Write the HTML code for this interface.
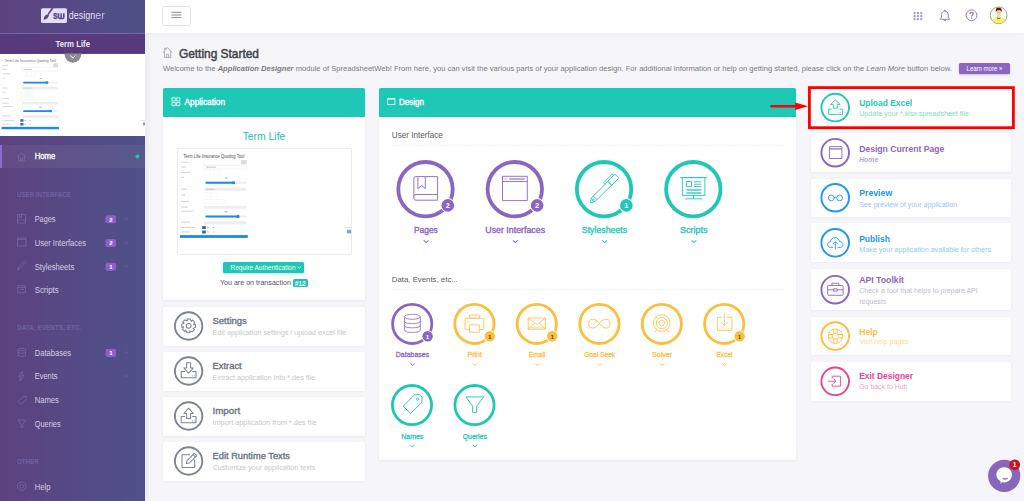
<!DOCTYPE html>
<html><head><meta charset="utf-8"><title>Designer</title>
<style>
*{margin:0;padding:0;box-sizing:border-box}
html,body{width:1024px;height:501px;overflow:hidden;background:#f6f5fa;font-family:"Liberation Sans",sans-serif}
.a{position:absolute}
.x{position:absolute;line-height:1;white-space:nowrap}
.card{position:absolute;background:#fff;border-radius:1.6px;box-shadow:0 0 0 0.4px rgba(0,0,0,0.02),0 1px 3px rgba(0,0,0,0.035)}
.hd{position:absolute;left:0;top:0;width:100%;height:29.4px;background:#1fc8b6;border-radius:1.6px 1.6px 0 0}
svg text{font-family:"Liberation Sans",sans-serif}
</style></head><body>
<div class="a" style="left:0;top:0;width:145px;height:501px;background:linear-gradient(90deg,#5c427f 0%,#554a85 50%,#4f5189 100%);box-shadow:1px 0 8px rgba(40,30,80,0.07)"></div>
<div class="a" style="left:0;top:33.4px;width:145px;height:20.1px;background:#563a7b"></div>
<div class="a" style="left:0;top:32.7px;width:145px;height:1px;background:#7a66ae"></div>
<div class="a" style="left:0;top:53.5px;width:145px;height:82.6px;background:#fff"></div>
<div class="a" style="left:0;top:144.6px;width:145px;height:23.7px;background:rgba(255,255,255,0.055)"></div>
<div class="a" style="left:0;top:144.6px;width:1.8px;height:23.7px;background:#8c6dcd"></div>
<div class="a" style="left:145px;top:0;width:879px;height:33px;background:#fff;box-shadow:0 1px 4px rgba(0,0,0,0.04)"></div>
<div class="a" style="left:162.3px;top:6px;width:28.5px;height:19.6px;border:0.8px solid #e3e3e8;border-radius:2.5px;background:#fff"></div>
<div class="a" style="left:959px;top:63.1px;width:50.8px;height:10.7px;background:#8a66bf;border-radius:1.5px;box-shadow:0 1px 2px rgba(100,70,160,0.3)"></div>
<div class="card" style="left:163px;top:87.6px;width:202px;height:212.8px"><div class="hd"></div></div>
<div class="card" style="left:163px;top:307px;width:202px;height:38.5px"></div>
<div class="card" style="left:163px;top:352px;width:202px;height:38.5px"></div>
<div class="card" style="left:163px;top:397px;width:202px;height:38.5px"></div>
<div class="card" style="left:163px;top:442px;width:202px;height:38.5px"></div>
<div class="card" style="left:379px;top:87.6px;width:417px;height:372.5px"><div class="hd"></div></div>
<div class="card" style="left:810.5px;top:88.3px;width:200.5px;height:38.6px"></div>
<div class="card" style="left:810.5px;top:133.4px;width:200.5px;height:38.6px"></div>
<div class="card" style="left:810.5px;top:178.5px;width:200.5px;height:38.5px"></div>
<div class="card" style="left:810.5px;top:223.4px;width:200.5px;height:38.8px"></div>
<div class="card" style="left:810.5px;top:269.3px;width:200.5px;height:40.8px"></div>
<div class="card" style="left:810.5px;top:316.7px;width:200.5px;height:38.7px"></div>
<div class="card" style="left:810.5px;top:361.8px;width:200.5px;height:39.1px"></div>
<div class="a" style="left:176.5px;top:148.4px;width:175px;height:106.5px;border:0.8px solid #ebebef;border-radius:2px;background:#fff"></div>
<div class="a" style="left:222.8px;top:262.3px;width:81.7px;height:10.4px;background:#1fc6b3;border-radius:1.5px;box-shadow:0 1px 3px rgba(32,196,176,0.35)"></div>
<div class="a" style="left:293px;top:279px;width:14.6px;height:8.4px;background:#1fc6b3;border-radius:1.5px"></div>
<div class="x" style="left:162.9px;top:64.5px;font-size:7.6px;color:#7a7a82" id="sub">Welcome to the <b><i>Application Designer</i></b> module of SpreadsheetWeb! From here, you can visit the various parts of your application design. For additional information or help on getting started, please click on the <i>Learn More</i> button below.</div>
<svg class="a" style="left:0;top:0" width="1024" height="501" viewBox="0 0 1024 501" font-family="Liberation Sans">
<defs><clipPath id="spc"><rect x="0" y="53.5" width="145" height="82.6"/></clipPath></defs>
<text x="183.5" y="157.8" font-size="5.1" fill="#4a4a4a" textLength="60.8" lengthAdjust="spacingAndGlyphs">Term Life Insurance Quoting Tool</text>
<rect x="181" y="161.8" width="7" height="1" fill="#9a9a9a" opacity="0.45"/><rect x="203.9" y="160" width="37" height="4.4" fill="#fff" stroke="#f0f0f0" stroke-width="0.4"/><rect x="241" y="160" width="5.7" height="4.4" fill="#ddd"/><rect x="181" y="166.5" width="5" height="1" fill="#9a9a9a" opacity="0.45"/><rect x="203.9" y="165.2" width="42.5" height="3.8" fill="#fff" stroke="#e6e6e6" stroke-width="0.4"/><rect x="206" y="166.7" width="10" height="0.9" fill="#bbb"/><rect x="181" y="171.9" width="9" height="1" fill="#9a9a9a" opacity="0.45"/><rect x="204" y="170" width="5.2" height="5" fill="#fff" stroke="#f0f0f0" stroke-width="0.4"/><rect x="209.5" y="170" width="5.2" height="5" fill="#fff" stroke="#f0f0f0" stroke-width="0.4"/><rect x="215" y="170" width="5.2" height="5" fill="#fff" stroke="#f0f0f0" stroke-width="0.4"/><rect x="181" y="176.9" width="3" height="1" fill="#9a9a9a" opacity="0.45"/><rect x="225.2" y="177.6" width="2" height="0.9" fill="#999"/><rect x="205.4" y="181.7" width="41" height="2" rx="1" fill="#eee"/><rect x="205.4" y="181.7" width="28.5" height="2" rx="1" fill="#1e88f0"/><circle cx="233.6" cy="182.7" r="1.6" fill="#1e88f0"/><rect x="181" y="188.7" width="6" height="1" fill="#9a9a9a" opacity="0.45"/><rect x="203.9" y="187.6" width="42.5" height="3.2" fill="#eeeeee"/><rect x="206" y="188.8" width="9" height="0.8" fill="#c4c4c4"/><rect x="181" y="194.4" width="4" height="1" fill="#9a9a9a" opacity="0.45"/><rect x="204" y="192.8" width="7" height="4" fill="#fff" stroke="#f0f0f0" stroke-width="0.4"/><rect x="211" y="192.8" width="7" height="4" fill="#fff" stroke="#f0f0f0" stroke-width="0.4"/><rect x="181" y="201.0" width="8" height="1" fill="#9a9a9a" opacity="0.45"/><rect x="203.9" y="199.5" width="12.5" height="4" fill="#fff" stroke="#f0f0f0" stroke-width="0.4"/><rect x="216.4" y="199.5" width="8.2" height="4" fill="#fff" stroke="#f0f0f0" stroke-width="0.4"/><rect x="181" y="206.7" width="7" height="1" fill="#9a9a9a" opacity="0.45"/><rect x="203.9" y="205.8" width="42.5" height="2.9" fill="#eeeeee"/><rect x="181" y="210.7" width="12" height="1" fill="#9a9a9a" opacity="0.45"/><rect x="224.5" y="211.4" width="3" height="0.8" fill="#999"/><rect x="205.4" y="215.4" width="41" height="2" rx="1" fill="#eee"/><rect x="205.4" y="215.4" width="33" height="2" rx="1" fill="#1e88f0"/><circle cx="238" cy="216.4" r="1.6" fill="#1e88f0"/><rect x="181" y="221.6" width="9" height="1" fill="#9a9a9a" opacity="0.45"/><rect x="203.9" y="221.3" width="42.5" height="3.2" fill="#eeeeee"/><rect x="181" y="226.9" width="14" height="1" fill="#9a9a9a" opacity="0.45"/><rect x="202.1" y="226" width="3.8" height="3" fill="#3a6fb0"/><rect x="207" y="227.2" width="2" height="0.7" fill="#aaa"/><rect x="213" y="227.2" width="1.5" height="0.7" fill="#aaa"/><rect x="181" y="231.4" width="9" height="1" fill="#9a9a9a" opacity="0.45"/><rect x="202.1" y="230.5" width="3.8" height="3" fill="#3a6fb0"/><rect x="207" y="231.6" width="2" height="0.7" fill="#aaa"/><rect x="213" y="231.6" width="1.5" height="0.7" fill="#aaa"/><rect x="180" y="235.1" width="67.8" height="2.8" fill="#1e88f0"/><rect x="344" y="227.4" width="7" height="0.5" fill="#ccc"/><rect x="347" y="229.8" width="4.2" height="3.6" fill="#8aa4c8"/>
<g clip-path="url(#spc)"><g transform="translate(-150.8,-71.8) scale(0.8466,0.845)"><rect x="181" y="161.8" width="7" height="1" fill="#9a9a9a" opacity="0.45"/><rect x="203.9" y="160" width="37" height="4.4" fill="#fff" stroke="#f0f0f0" stroke-width="0.4"/><rect x="241" y="160" width="5.7" height="4.4" fill="#ddd"/><rect x="181" y="166.5" width="5" height="1" fill="#9a9a9a" opacity="0.45"/><rect x="203.9" y="165.2" width="42.5" height="3.8" fill="#fff" stroke="#e6e6e6" stroke-width="0.4"/><rect x="206" y="166.7" width="10" height="0.9" fill="#bbb"/><rect x="181" y="171.9" width="9" height="1" fill="#9a9a9a" opacity="0.45"/><rect x="204" y="170" width="5.2" height="5" fill="#fff" stroke="#f0f0f0" stroke-width="0.4"/><rect x="209.5" y="170" width="5.2" height="5" fill="#fff" stroke="#f0f0f0" stroke-width="0.4"/><rect x="215" y="170" width="5.2" height="5" fill="#fff" stroke="#f0f0f0" stroke-width="0.4"/><rect x="181" y="176.9" width="3" height="1" fill="#9a9a9a" opacity="0.45"/><rect x="225.2" y="177.6" width="2" height="0.9" fill="#999"/><rect x="205.4" y="181.7" width="41" height="2" rx="1" fill="#eee"/><rect x="205.4" y="181.7" width="28.5" height="2" rx="1" fill="#1e88f0"/><circle cx="233.6" cy="182.7" r="1.6" fill="#1e88f0"/><rect x="181" y="188.7" width="6" height="1" fill="#9a9a9a" opacity="0.45"/><rect x="203.9" y="187.6" width="42.5" height="3.2" fill="#eeeeee"/><rect x="206" y="188.8" width="9" height="0.8" fill="#c4c4c4"/><rect x="181" y="194.4" width="4" height="1" fill="#9a9a9a" opacity="0.45"/><rect x="204" y="192.8" width="7" height="4" fill="#fff" stroke="#f0f0f0" stroke-width="0.4"/><rect x="211" y="192.8" width="7" height="4" fill="#fff" stroke="#f0f0f0" stroke-width="0.4"/><rect x="181" y="201.0" width="8" height="1" fill="#9a9a9a" opacity="0.45"/><rect x="203.9" y="199.5" width="12.5" height="4" fill="#fff" stroke="#f0f0f0" stroke-width="0.4"/><rect x="216.4" y="199.5" width="8.2" height="4" fill="#fff" stroke="#f0f0f0" stroke-width="0.4"/><rect x="181" y="206.7" width="7" height="1" fill="#9a9a9a" opacity="0.45"/><rect x="203.9" y="205.8" width="42.5" height="2.9" fill="#eeeeee"/><rect x="181" y="210.7" width="12" height="1" fill="#9a9a9a" opacity="0.45"/><rect x="224.5" y="211.4" width="3" height="0.8" fill="#999"/><rect x="205.4" y="215.4" width="41" height="2" rx="1" fill="#eee"/><rect x="205.4" y="215.4" width="33" height="2" rx="1" fill="#1e88f0"/><circle cx="238" cy="216.4" r="1.6" fill="#1e88f0"/><rect x="181" y="221.6" width="9" height="1" fill="#9a9a9a" opacity="0.45"/><rect x="203.9" y="221.3" width="42.5" height="3.2" fill="#eeeeee"/><rect x="181" y="226.9" width="14" height="1" fill="#9a9a9a" opacity="0.45"/><rect x="202.1" y="226" width="3.8" height="3" fill="#3a6fb0"/><rect x="207" y="227.2" width="2" height="0.7" fill="#aaa"/><rect x="213" y="227.2" width="1.5" height="0.7" fill="#aaa"/><rect x="181" y="231.4" width="9" height="1" fill="#9a9a9a" opacity="0.45"/><rect x="202.1" y="230.5" width="3.8" height="3" fill="#3a6fb0"/><rect x="207" y="231.6" width="2" height="0.7" fill="#aaa"/><rect x="213" y="231.6" width="1.5" height="0.7" fill="#aaa"/><rect x="180" y="235.1" width="67.8" height="2.8" fill="#1e88f0"/><rect x="344" y="227.4" width="7" height="0.5" fill="#ccc"/><rect x="347" y="229.8" width="4.2" height="3.6" fill="#8aa4c8"/></g></g>
<text x="4.55" y="61.5" font-size="4.4" fill="#707070" textLength="51.5" lengthAdjust="spacingAndGlyphs">Term Life Insurance Quoting Tool</text>
<rect x="41" y="8.3" width="26" height="14.7" rx="1.5" fill="#e4ddfc"/>
<line x1="52.6" y1="8.3" x2="48.9" y2="13.3" stroke="#5a4585" stroke-width="1.7" stroke-linecap="round"/><path d="M48.9 14 Q49.5 16.5 47.4 18.2 Q45.6 19.5 43.5 19.4 Q43.6 17.3 45 15.7 Q46.6 14 48.9 14 Z" fill="#5a4585"/>
<text x="53.1" y="19.1" font-size="10.8" fill="#5a4585" font-weight="bold" textLength="4.6" lengthAdjust="spacingAndGlyphs" stroke="#5a4585" stroke-width="0.35">s</text>
<path d="M58.5 13.3 V17.2 Q58.5 18.4 59.7 18.4 H62.6 Q63.8 18.4 63.8 17.2 V13.3 M61.15 13.3 V18.3" stroke="#5a4585" stroke-width="1.55" fill="none"/>
<text x="68.8" y="18.9" font-size="10.6" fill="#e6dff9" textLength="26.5" lengthAdjust="spacingAndGlyphs">design</text>
<text x="95.3" y="18.9" font-size="10.6" fill="#c9bfe6" textLength="9.4" lengthAdjust="spacingAndGlyphs">er</text>
<defs><clipPath id="cc"><rect x="0" y="53.5" width="145" height="20"/></clipPath></defs>
<circle cx="72.9" cy="54.3" r="8.4" fill="#8c8c8c" clip-path="url(#cc)"/>
<path d="M70.3 55.6 L72.9 58 L75.5 55.6" stroke="#fff" stroke-width="1" fill="none"/>
<text x="55.5" y="46.7" font-size="9.1" fill="#ece6f7" font-weight="bold" textLength="34.5" lengthAdjust="spacingAndGlyphs">Term Life</text>
<text x="34.7" y="159" font-size="8.7" fill="#ffffff" stroke="#ffffff" stroke-width="0.348" textLength="20.6" lengthAdjust="spacingAndGlyphs">Home</text>
<circle cx="137.4" cy="156.5" r="2" fill="#21c4ae"/>
<path d="M17.5 156.8 L21.5 153 L25.5 156.8 M18.6 155.8 V160.8 H24.4 V155.8 M20.6 160.8 V158 H22.4 V160.8" stroke="#7e6db0" stroke-width="0.7" fill="none"/>
<text x="17" y="196.6" font-size="6.4" fill="#6e61a0" font-weight="bold" textLength="53.8" lengthAdjust="spacingAndGlyphs">USER INTERFACE</text>
<text x="34.7" y="222" font-size="8.4" fill="#d4cce8" textLength="20.8" lengthAdjust="spacingAndGlyphs">Pages</text>
<rect x="105.5" y="215.2" width="10.6" height="8" rx="1.8" fill="#8a62c0"/><text x="110.8" y="221.6" font-size="6" fill="#ffffff" font-weight="bold" text-anchor="middle">2</text>
<path d="M124.3 218 L126.2 219.6 L128.1 218" stroke="#6f64a2" stroke-width="0.7" fill="none"/>
<text x="34.7" y="245.8" font-size="8.4" fill="#d4cce8" textLength="51.4" lengthAdjust="spacingAndGlyphs">User Interfaces</text>
<rect x="105.5" y="239.0" width="10.6" height="8" rx="1.8" fill="#8a62c0"/><text x="110.8" y="245.4" font-size="6" fill="#ffffff" font-weight="bold" text-anchor="middle">2</text>
<path d="M124.3 241.8 L126.2 243.4 L128.1 241.8" stroke="#6f64a2" stroke-width="0.7" fill="none"/>
<text x="34.7" y="269.5" font-size="8.4" fill="#d4cce8" textLength="39.6" lengthAdjust="spacingAndGlyphs">Stylesheets</text>
<rect x="105.5" y="262.7" width="10.6" height="8" rx="1.8" fill="#8a62c0"/><text x="110.8" y="269.1" font-size="6" fill="#ffffff" font-weight="bold" text-anchor="middle">1</text>
<path d="M124.3 265.5 L126.2 267.1 L128.1 265.5" stroke="#6f64a2" stroke-width="0.7" fill="none"/>
<text x="34.7" y="293.1" font-size="8.4" fill="#d4cce8" textLength="24" lengthAdjust="spacingAndGlyphs">Scripts</text>
<text x="17" y="330.3" font-size="6.4" fill="#6e61a0" font-weight="bold" textLength="64.4" lengthAdjust="spacingAndGlyphs">DATA, EVENTS, ETC.</text>
<text x="34.7" y="355.7" font-size="8.4" fill="#d4cce8" textLength="36.3" lengthAdjust="spacingAndGlyphs">Databases</text>
<rect x="105.5" y="348.9" width="10.6" height="8" rx="1.8" fill="#8a62c0"/><text x="110.8" y="355.3" font-size="6" fill="#ffffff" font-weight="bold" text-anchor="middle">1</text>
<path d="M124.3 351.7 L126.2 353.3 L128.1 351.7" stroke="#6f64a2" stroke-width="0.7" fill="none"/>
<text x="34.7" y="379.3" font-size="8.4" fill="#d4cce8" textLength="22.8" lengthAdjust="spacingAndGlyphs">Events</text>
<path d="M124.3 375.3 L126.2 376.90000000000003 L128.1 375.3" stroke="#6f64a2" stroke-width="0.7" fill="none"/>
<text x="34.7" y="403" font-size="8.4" fill="#d4cce8" textLength="24.2" lengthAdjust="spacingAndGlyphs">Names</text>
<text x="34.7" y="426.6" font-size="8.4" fill="#d4cce8" textLength="25.9" lengthAdjust="spacingAndGlyphs">Queries</text>
<text x="17" y="463.9" font-size="6.4" fill="#6e61a0" font-weight="bold" textLength="21.7" lengthAdjust="spacingAndGlyphs">OTHER</text>
<text x="34.7" y="490" font-size="8.4" fill="#d4cce8" textLength="15.7" lengthAdjust="spacingAndGlyphs">Help</text>
<g stroke="#7a6cae" stroke-width="0.7" fill="none"><rect x="17.5" y="214.5" width="8" height="8.5"/><line x1="17.5" y1="220" x2="25.5" y2="220"/><path d="M19.5 214.5 V218 L20.5 217 L21.5 218 V214.5"/><rect x="17.5" y="238" width="8.5" height="8"/><line x1="17.5" y1="239.6" x2="26" y2="239.6"/><path d="M17.5 270 L19 266.5 L24.6 261 L26 262.4 L20.5 268 Z"/><rect x="17.8" y="285.8" width="7.8" height="7"/><line x1="17.8" y1="287.5" x2="25.6" y2="287.5"/><line x1="19.5" y1="289.5" x2="24" y2="289.5"/><ellipse cx="21.7" cy="349.5" rx="3.8" ry="1.3"/><path d="M17.9 349.5 V355.5 Q21.7 357.5 25.5 355.5 V349.5 M17.9 352.5 Q21.7 354.3 25.5 352.5"/><path d="M21.5 372 L18.5 376.8 H21 L19.8 381 L24 375.3 H21.5 L23 372 Z"/><path d="M18 401.5 L23 396.5 H26 V399.5 L21 404.5 Z"/><path d="M17.8 420 H26.2 L23 424 V427.5 H21 V424 Z"/><circle cx="21.7" cy="486.3" r="4.2"/><circle cx="21.7" cy="486.3" r="1.8"/></g>
<g fill="#8a8a90"><rect x="171.4" y="11.8" width="10" height="1"/><rect x="171.4" y="14.5" width="10" height="1"/><rect x="171.4" y="17.1" width="10" height="1"/></g>
<g fill="#ae9be0"><rect x="913.45" y="11.95" width="2.3" height="2.3" rx="0.8"/><rect x="916.75" y="11.95" width="2.3" height="2.3" rx="0.8"/><rect x="920.15" y="11.95" width="2.3" height="2.3" rx="0.8"/><rect x="913.45" y="15.049999999999999" width="2.3" height="2.3" rx="0.8"/><rect x="916.75" y="15.049999999999999" width="2.3" height="2.3" rx="0.8"/><rect x="920.15" y="15.049999999999999" width="2.3" height="2.3" rx="0.8"/><rect x="913.45" y="18.05" width="2.3" height="2.3" rx="0.8"/><rect x="916.75" y="18.05" width="2.3" height="2.3" rx="0.8"/><rect x="920.15" y="18.05" width="2.3" height="2.3" rx="0.8"/></g>
<g stroke="#8e72cc" stroke-width="0.95" fill="none" stroke-linejoin="round"><path d="M941.5 17.6 V14.8 C941.5 12.6 943 11.2 944.85 11.2 C946.7 11.2 948.2 12.6 948.2 14.8 V17.6 L949.4 18.6 Q949.8 19.3 949 19.3 H940.7 Q939.9 19.3 940.3 18.6 Z"/><path d="M943.7 20.2 Q944.85 21.5 946 20.2"/></g><circle cx="944.85" cy="10.6" r="0.75" fill="#8e72cc"/>
<g stroke="#8e72cc" stroke-width="0.95" fill="none"><circle cx="971.5" cy="15.3" r="5.4"/><path d="M969.9 14 C969.9 12.9 970.6 12.4 971.6 12.4 C972.6 12.4 973.3 13 973.3 13.8 C973.3 14.9 971.7 15 971.7 16.4" stroke-width="1.2"/></g><circle cx="971.7" cy="18" r="0.65" fill="#8e72cc"/>
<defs><clipPath id="av"><circle cx="998.7" cy="15.3" r="7.95"/></clipPath></defs>
<circle cx="998.7" cy="15.3" r="8.4" fill="#fbfbf8" stroke="#a09a6c" stroke-width="0.9"/>
<g clip-path="url(#av)"><path d="M990.7 24.3 C990.7 19.3 993.7 17.6 998.7 17.6 C1003.7 17.6 1006.7 19.3 1006.7 24.3 Z" fill="#f6f266"/><path d="M996.6 10.5 H1000.8 V15.6 Q1000.8 17.4 998.7 17.4 Q996.6 17.4 996.6 15.6 Z" fill="#f6d7b8"/><path d="M995.8 12.2 C995.3 8.9 996.6 7.5 998.7 7.5 C1000.9 7.5 1002.2 8.9 1001.6 12.2 C1001 10.6 999.9 10.3 998.7 10.3 C997.5 10.3 996.4 10.6 995.8 12.2 Z" fill="#5c1f0f"/><circle cx="997.6" cy="12.6" r="0.8" fill="none" stroke="#9aa" stroke-width="0.35"/><circle cx="999.8" cy="12.6" r="0.8" fill="none" stroke="#9aa" stroke-width="0.35"/><path d="M996.8 17.3 L998.7 18.3 L1000.6 17.3 L1000.3 18.4 L998.7 19 L997.1 18.4 Z" fill="#5a4a4a"/></g>
<path d="M163.2 52.6 L167.6 47.5 L172 52.6 M164.5 51.2 V57.4 H170.7 V51.2 M166.7 57.4 V54.4 H168.6 V57.4 M164.6 50.5 V48.2 H165.9 V49" stroke="#a9adb6" stroke-width="0.95" fill="none" stroke-linejoin="round"/>
<text x="178.9" y="57.6" font-size="12.6" fill="#44444c" stroke="#44444c" stroke-width="0.504" textLength="80.1" lengthAdjust="spacingAndGlyphs">Getting Started</text>
<text x="966.6" y="70.7" font-size="6.8" fill="#ffffff" textLength="35.7" lengthAdjust="spacingAndGlyphs">Learn more &#187;</text>
<g fill="none" stroke="#eafffb" stroke-width="0.8"><rect x="172" y="97.8" width="3.2" height="3.2"/><rect x="176.7" y="97.8" width="3.2" height="3.2"/><rect x="172" y="102.5" width="3.2" height="3.2"/><rect x="176.7" y="102.5" width="3.2" height="3.2"/></g>
<text x="184.5" y="104.7" font-size="8.2" fill="#ffffff" stroke="#ffffff" stroke-width="0.328" textLength="40.6" lengthAdjust="spacingAndGlyphs">Application</text>
<text x="264" y="139.9" font-size="11" fill="#22bfae" text-anchor="middle" textLength="42.7" lengthAdjust="spacingAndGlyphs">Term Life</text>
<text x="230.5" y="270" font-size="6.5" fill="#ffffff" textLength="65" lengthAdjust="spacingAndGlyphs">Require Authentication</text>
<path d="M297.5 266.6 L299.2 268.2 L300.9 266.6" stroke="#fff" stroke-width="0.8" fill="none"/>
<text x="219.9" y="285.3" font-size="7.8" fill="#555555" textLength="71" lengthAdjust="spacingAndGlyphs">You are on transaction</text>
<text x="300.3" y="286" font-size="6.6" fill="#ffffff" font-weight="bold" text-anchor="middle" textLength="11" lengthAdjust="spacingAndGlyphs">#12</text>
<circle cx="188.6" cy="326" r="13.7" fill="none" stroke="#7d8591" stroke-width="1.9"/>
<text x="212.5" y="324" font-size="8.8" fill="#6f7682" stroke="#6f7682" stroke-width="0.352" textLength="34.3" lengthAdjust="spacingAndGlyphs">Settings</text>
<text x="212.5" y="334.8" font-size="6.7" fill="#c5c7cc" textLength="133.6" lengthAdjust="spacingAndGlyphs">Edit application settings / upload excel file</text>
<circle cx="188.6" cy="371" r="13.7" fill="none" stroke="#7d8591" stroke-width="1.9"/>
<text x="212.5" y="369" font-size="8.8" fill="#6f7682" stroke="#6f7682" stroke-width="0.352" textLength="29.2" lengthAdjust="spacingAndGlyphs">Extract</text>
<text x="212.5" y="379.8" font-size="6.7" fill="#c5c7cc" textLength="102.5" lengthAdjust="spacingAndGlyphs">Extract application into *.des file</text>
<circle cx="188.6" cy="416" r="13.7" fill="none" stroke="#7d8591" stroke-width="1.9"/>
<text x="212.5" y="414" font-size="8.8" fill="#6f7682" stroke="#6f7682" stroke-width="0.352" textLength="27.7" lengthAdjust="spacingAndGlyphs">Import</text>
<text x="212.5" y="424.8" font-size="6.7" fill="#c5c7cc" textLength="104.4" lengthAdjust="spacingAndGlyphs">Import application from *.des file</text>
<circle cx="188.6" cy="461" r="13.7" fill="none" stroke="#7d8591" stroke-width="1.9"/>
<text x="212.5" y="459" font-size="8.8" fill="#6f7682" stroke="#6f7682" stroke-width="0.352" textLength="77.5" lengthAdjust="spacingAndGlyphs">Edit Runtime Texts</text>
<text x="212.5" y="469.8" font-size="6.7" fill="#c5c7cc" textLength="102.8" lengthAdjust="spacingAndGlyphs">Customize your application texts</text>
<g fill="none" stroke="#7d8591" stroke-width="1.05" stroke-linejoin="round"><path d="M195.45 324.34 L195.45 327.26 L192.96 328.63 L194.47 329.61 L192.41 331.67 L189.68 330.89 L190.06 332.65 L187.14 332.65 L185.77 330.16 L184.79 331.67 L182.73 329.61 L183.51 326.88 L181.75 327.26 L181.75 324.34 L184.24 322.97 L182.73 321.99 L184.79 319.93 L187.52 320.71 L187.14 318.95 L190.06 318.95 L191.43 321.44 L192.41 319.93 L194.47 321.99 L193.69 324.72 Z"/><circle cx="188.6" cy="325.8" r="2.4"/><path d="M186.6 362.8 H190.6 V368 H193.3 L188.6 373.2 L183.9 368 H186.6 Z"/><path d="M185 371.5 H181.2 V377.7 H196 V371.5 H192.2"/><path d="M192 375.8 H193 M194 375.8 H194.8" stroke-width="0.7"/><path d="M186.6 418.5 H190.6 V413.5 H193.3 L188.6 408.2 L183.9 413.5 H186.6 Z"/><path d="M185 416.5 H181.2 V422.7 H196 V416.5 H192.2"/><path d="M192 420.8 H193 M194 420.8 H194.8" stroke-width="0.7"/><path d="M190 454.8 H182 V467.5 H194.7 V459.5"/><path d="M186.5 463.5 L187 460.6 L194.3 453.3 L196.7 455.7 L189.4 463 Z M193 454.6 L195.4 457"/></g>
<rect x="387.5" y="98.5" width="7.4" height="6" fill="none" stroke="#e8fffb" stroke-width="0.8"/><line x1="387.5" y1="99.2" x2="394.9" y2="99.2" stroke="#e8fffb" stroke-width="0.9"/>
<text x="398.9" y="104.9" font-size="8.3" fill="#ffffff" stroke="#ffffff" stroke-width="0.332" textLength="25" lengthAdjust="spacingAndGlyphs">Design</text>
<text x="391.8" y="138" font-size="8.2" fill="#5a5a60" textLength="51.1" lengthAdjust="spacingAndGlyphs">User Interface</text>
<line x1="391.8" y1="145.2" x2="784" y2="145.2" stroke="#e4e4e8" stroke-width="0.8" stroke-dasharray="1.2 1.2"/>
<text x="391.8" y="281.8" font-size="7.6" fill="#5a5a60" textLength="66" lengthAdjust="spacingAndGlyphs">Data, Events, etc...</text>
<line x1="391.8" y1="289.3" x2="784" y2="289.3" stroke="#e4e4e8" stroke-width="0.8" stroke-dasharray="1.2 1.2"/>
<circle cx="425.5" cy="189.2" r="27.2" fill="none" stroke="#8a66c3" stroke-width="3.8"/>
<circle cx="447.8" cy="205.39999999999998" r="7.3" fill="#fff"/><circle cx="447.8" cy="205.39999999999998" r="6.3" fill="#8a66c3"/><text x="447.8" y="207.99999999999997" font-size="7.4" fill="#fff" font-weight="bold" text-anchor="middle">2</text>
<circle cx="514.8" cy="189.2" r="27.2" fill="none" stroke="#8a66c3" stroke-width="3.8"/>
<circle cx="537.0999999999999" cy="205.39999999999998" r="7.3" fill="#fff"/><circle cx="537.0999999999999" cy="205.39999999999998" r="6.3" fill="#8a66c3"/><text x="537.0999999999999" y="207.99999999999997" font-size="7.4" fill="#fff" font-weight="bold" text-anchor="middle">2</text>
<circle cx="604.05" cy="189.2" r="27.2" fill="none" stroke="#1fc8b6" stroke-width="3.8"/>
<circle cx="626.3499999999999" cy="205.39999999999998" r="7.3" fill="#fff"/><circle cx="626.3499999999999" cy="205.39999999999998" r="6.3" fill="#1fc8b6"/><text x="626.3499999999999" y="207.99999999999997" font-size="7.4" fill="#fff" font-weight="bold" text-anchor="middle">1</text>
<circle cx="693.3" cy="189.2" r="27.2" fill="none" stroke="#1fc8b6" stroke-width="3.8"/>
<text x="425.9" y="232.6" font-size="8.6" fill="#8a66c3" stroke="#8a66c3" stroke-width="0.344" text-anchor="middle" textLength="23.7" lengthAdjust="spacingAndGlyphs">Pages</text>
<path d="M423.70000000000005 240.4 L426.1 242.6 L428.5 240.4" fill="none" stroke="#8a66c3" stroke-width="1.1"/>
<text x="515.1999999999999" y="232.6" font-size="8.6" fill="#8a66c3" stroke="#8a66c3" stroke-width="0.344" text-anchor="middle" textLength="59.8" lengthAdjust="spacingAndGlyphs">User Interfaces</text>
<path d="M513.0 240.4 L515.4 242.6 L517.8 240.4" fill="none" stroke="#8a66c3" stroke-width="1.1"/>
<text x="604.4499999999999" y="232.6" font-size="8.6" fill="#1fc8b6" stroke="#1fc8b6" stroke-width="0.344" text-anchor="middle" textLength="45.3" lengthAdjust="spacingAndGlyphs">Stylesheets</text>
<path d="M602.25 240.4 L604.65 242.6 L607.05 240.4" fill="none" stroke="#1fc8b6" stroke-width="1.1"/>
<text x="693.6999999999999" y="232.6" font-size="8.6" fill="#1fc8b6" stroke="#1fc8b6" stroke-width="0.344" text-anchor="middle" textLength="27.4" lengthAdjust="spacingAndGlyphs">Scripts</text>
<path d="M691.5 240.4 L693.9 242.6 L696.3 240.4" fill="none" stroke="#1fc8b6" stroke-width="1.1"/>
<circle cx="412.2" cy="323.9" r="19.6" fill="none" stroke="#8a66c3" stroke-width="2.8"/>
<circle cx="427.59999999999997" cy="336.29999999999995" r="6.1" fill="#fff"/><circle cx="427.59999999999997" cy="336.29999999999995" r="5.2" fill="#8a66c3"/><text x="427.59999999999997" y="338.49999999999994" font-size="6.2" fill="#fff" font-weight="bold" text-anchor="middle">1</text>
<circle cx="474.4" cy="323.9" r="19.6" fill="none" stroke="#fbbe3e" stroke-width="2.8"/>
<circle cx="489.79999999999995" cy="336.29999999999995" r="6.1" fill="#fff"/><circle cx="489.79999999999995" cy="336.29999999999995" r="5.2" fill="#fbbe3e"/><text x="489.79999999999995" y="338.49999999999994" font-size="6.2" fill="#5a4520" font-weight="bold" text-anchor="middle">1</text>
<circle cx="536.8" cy="323.9" r="19.6" fill="none" stroke="#fbbe3e" stroke-width="2.8"/>
<circle cx="552.1999999999999" cy="336.29999999999995" r="6.1" fill="#fff"/><circle cx="552.1999999999999" cy="336.29999999999995" r="5.2" fill="#fbbe3e"/><text x="552.1999999999999" y="338.49999999999994" font-size="6.2" fill="#5a4520" font-weight="bold" text-anchor="middle">1</text>
<circle cx="599.4" cy="323.9" r="19.6" fill="none" stroke="#fbbe3e" stroke-width="2.8"/>
<circle cx="661.8" cy="323.9" r="19.6" fill="none" stroke="#fbbe3e" stroke-width="2.8"/>
<circle cx="724.2" cy="323.9" r="19.6" fill="none" stroke="#fbbe3e" stroke-width="2.8"/>
<circle cx="739.6" cy="336.29999999999995" r="6.1" fill="#fff"/><circle cx="739.6" cy="336.29999999999995" r="5.2" fill="#fbbe3e"/><text x="739.6" y="338.49999999999994" font-size="6.2" fill="#5a4520" font-weight="bold" text-anchor="middle">1</text>
<text x="412.5" y="357.4" font-size="6.6" fill="#8a66c3" stroke="#8a66c3" stroke-width="0.264" text-anchor="middle" textLength="33.3" lengthAdjust="spacingAndGlyphs">Databases</text>
<path d="M410.49999999999994 363.4 L412.59999999999997 365.6 L414.7 363.4" fill="none" stroke="#8a66c3" stroke-width="0.9"/>
<text x="474.7" y="357.4" font-size="6.6" fill="#fbbe3e" stroke="#fbbe3e" stroke-width="0.264" text-anchor="middle" textLength="14.5" lengthAdjust="spacingAndGlyphs">Print</text>
<path d="M472.69999999999993 363.4 L474.79999999999995 365.6 L476.9 363.4" fill="none" stroke="#fbbe3e" stroke-width="0.9"/>
<text x="537.0999999999999" y="357.4" font-size="6.6" fill="#fbbe3e" stroke="#fbbe3e" stroke-width="0.264" text-anchor="middle" textLength="16.5" lengthAdjust="spacingAndGlyphs">Email</text>
<path d="M535.0999999999999 363.4 L537.1999999999999 365.6 L539.3 363.4" fill="none" stroke="#fbbe3e" stroke-width="0.9"/>
<text x="599.6999999999999" y="357.4" font-size="6.6" fill="#fbbe3e" stroke="#fbbe3e" stroke-width="0.264" text-anchor="middle" textLength="31" lengthAdjust="spacingAndGlyphs">Goal Seek</text>
<path d="M597.6999999999999 363.4 L599.8 365.6 L601.9 363.4" fill="none" stroke="#fbbe3e" stroke-width="0.9"/>
<text x="662.0999999999999" y="357.4" font-size="6.6" fill="#fbbe3e" stroke="#fbbe3e" stroke-width="0.264" text-anchor="middle" textLength="20" lengthAdjust="spacingAndGlyphs">Solver</text>
<path d="M660.0999999999999 363.4 L662.1999999999999 365.6 L664.3 363.4" fill="none" stroke="#fbbe3e" stroke-width="0.9"/>
<text x="724.5" y="357.4" font-size="6.6" fill="#fbbe3e" stroke="#fbbe3e" stroke-width="0.264" text-anchor="middle" textLength="16" lengthAdjust="spacingAndGlyphs">Excel</text>
<path d="M722.5 363.4 L724.6 365.6 L726.7 363.4" fill="none" stroke="#fbbe3e" stroke-width="0.9"/>
<circle cx="412" cy="405.1" r="19.6" fill="none" stroke="#1fc8b6" stroke-width="2.8"/>
<circle cx="474.5" cy="405.1" r="19.6" fill="none" stroke="#1fc8b6" stroke-width="2.8"/>
<text x="412.3" y="438.6" font-size="6.6" fill="#1fc8b6" stroke="#1fc8b6" stroke-width="0.264" text-anchor="middle" textLength="22" lengthAdjust="spacingAndGlyphs">Names</text>
<path d="M410.29999999999995 444.9 L412.4 447.1 L414.5 444.9" fill="none" stroke="#1fc8b6" stroke-width="0.9"/>
<text x="474.8" y="438.6" font-size="6.6" fill="#1fc8b6" stroke="#1fc8b6" stroke-width="0.264" text-anchor="middle" textLength="24.2" lengthAdjust="spacingAndGlyphs">Queries</text>
<path d="M472.79999999999995 444.9 L474.9 447.1 L477.0 444.9" fill="none" stroke="#1fc8b6" stroke-width="0.9"/>
<g fill="none" stroke-width="0.9" stroke-linejoin="round">
<g stroke="#8a66c3">
<path d="M415.8 176.6 H437.6 V200.2 H415.8 Q413.9 200.2 413.9 198.3 V178.5 Q413.9 176.6 415.8 176.6 Z"/>
<path d="M413.9 196.3 Q413.9 194.5 415.8 194.5 H437.6"/>
<path d="M417.9 176.6 V188.6 L421.6 185.6 L425.3 188.6 V176.6"/>
</g>
<g stroke="#8a66c3">
<rect x="502.5" y="176.3" width="24.8" height="24.3"/>
<line x1="502.5" y1="181.5" x2="527.3" y2="181.5"/>
<line x1="504.6" y1="179" x2="505.4" y2="179" stroke-width="1.4" stroke="#a58bd3"/>
<line x1="506.6" y1="179" x2="507.4" y2="179" stroke-width="1.4" stroke="#a58bd3"/>
<line x1="509.2" y1="179" x2="524.6" y2="179" stroke-width="1.5" stroke="#a58bd3"/>
</g>
<g stroke="#1fc8b6" transform="rotate(-45 604 189)">
<path d="M591.5 186.4 C588.8 186.4 586.2 187.4 584.6 189 C586.2 190.6 588.8 191.6 591.5 191.6"/>
<circle cx="588.6" cy="189" r="1"/>
<rect x="591.5" y="186.4" width="20.5" height="5.2"/>
<rect x="612" y="186.1" width="10.2" height="5.8" rx="0.6"/>
<path d="M608 186.4 V184.3 H620.5 V186.1"/>
</g>
<g stroke="#1fc8b6">
<line x1="680.1" y1="177.6" x2="706.9" y2="177.6"/>
<rect x="682.4" y="177.6" width="22.5" height="18"/>
<rect x="686.5" y="181.5" width="5" height="5"/>
<line x1="694" y1="181.8" x2="701.3" y2="181.8"/>
<line x1="694" y1="184.2" x2="701.3" y2="184.2"/>
<line x1="694" y1="186.5" x2="701.3" y2="186.5"/>
<line x1="686.5" y1="190" x2="701.3" y2="190" stroke-width="1.3"/>
<line x1="686.5" y1="193" x2="701.3" y2="193" stroke-width="1.3"/>
<line x1="693.6" y1="195.6" x2="693.6" y2="198.8"/>
<line x1="685" y1="198.8" x2="702.3" y2="198.8"/>
</g>
<g stroke="#8a66c3" stroke-width="0.8">
<ellipse cx="412.4" cy="316.8" rx="8" ry="2.5"/>
<path d="M404.4 316.8 V329.8 Q404.4 332.4 412.4 332.4 Q420.4 332.4 420.4 329.8 V316.8"/>
<path d="M404.4 321 Q404.4 323.5 412.4 323.5 Q420.4 323.5 420.4 321"/>
<path d="M404.4 325.3 Q404.4 327.8 412.4 327.8 Q420.4 327.8 420.4 325.3"/>
</g>
<g stroke="#fbbe3e" stroke-width="0.8">
<rect x="469.4" y="315.1" width="10" height="3.2"/>
<rect x="465" y="318.3" width="18.8" height="11.2"/>
<rect x="469.4" y="324.9" width="10" height="7.3" fill="#fff"/>
<line x1="467.3" y1="321.6" x2="468.3" y2="321.6"/><line x1="469.3" y1="321.6" x2="470.3" y2="321.6"/>
</g>
<g stroke="#fbbe3e" stroke-width="0.8">
<rect x="528.2" y="318" width="17.3" height="11.2"/>
<path d="M528.2 318 L536.85 324.4 L545.5 318"/>
<path d="M528.2 329.2 L534.3 323.1 M545.5 329.2 L539.4 323.1"/>
<line x1="528.2" y1="327.8" x2="545.5" y2="327.8" stroke-width="0.5"/>
</g>
<path stroke="#fbbe3e" stroke-width="0.9" d="M599.4 323.6 C597 320 594.5 319.3 592.2 319.3 C589.8 319.3 588.7 321.4 588.7 323.6 C588.7 325.9 589.8 328 592.2 328 C594.5 328 597 327.2 599.4 323.6 C601.8 320 604.3 319.3 606.6 319.3 C609 319.3 610.1 321.4 610.1 323.6 C610.1 325.9 609 328 606.6 328 C604.3 328 601.8 327.2 599.4 323.6 Z"/>
<path stroke="#fbbe3e" stroke-width="0.8" d="M595.8 320 L597.3 321.3 L595.6 321.8"/>
<g stroke="#fbbe3e" stroke-width="0.8">
<circle cx="661.8" cy="323.1" r="8.3"/>
<circle cx="661.8" cy="323.1" r="5.6"/>
<circle cx="661.8" cy="323.1" r="2.8"/>
<path d="M656.5 329.6 L655 332.1 M667.1 329.6 L668.6 332.1"/>
</g>
<g stroke="#fbbe3e" stroke-width="0.8">
<path d="M722 317.3 H717.3 V330.4 H731.9 V317.3 H726.6"/>
<line x1="724.3" y1="313.3" x2="724.3" y2="325.4"/>
<path d="M720.6 321.8 L724.3 325.6 L728 321.8"/>
<line x1="717.3" y1="328.6" x2="731.9" y2="328.6" stroke-width="0.5" stroke-dasharray="0.8 0.8"/>
</g>
<g stroke="#1fc8b6" stroke-width="0.9">
<path d="M403.2 406.2 L414.6 394.8 L419.7 394.6 L422.1 397 L421.9 402.1 L410.5 413.5 Z"/>
<circle cx="417.6" cy="399.2" r="1.1"/>
</g>
<path stroke="#1fc8b6" stroke-width="0.9" d="M465.9 396.9 H483.8 L476.6 406.2 V412.6 H472.6 V406.2 Z"/>
</g>
<circle cx="835.2" cy="107.60" r="13.8" fill="none" stroke="#1fc8b6" stroke-width="1.9"/>
<text x="859.2" y="105.5" font-size="9.3" fill="#1fc8b6" font-weight="bold" textLength="53" lengthAdjust="spacingAndGlyphs">Upload Excel</text>
<text x="859.2" y="116" font-size="7.1" fill="#82d9ce" textLength="109.7" lengthAdjust="spacingAndGlyphs">Update your *.xlsx spreadsheet file</text>
<circle cx="835.2" cy="152.70" r="13.8" fill="none" stroke="#8a66c3" stroke-width="1.9"/>
<text x="859.2" y="151.5" font-size="9.3" fill="#8a66c3" font-weight="bold" textLength="85.1" lengthAdjust="spacingAndGlyphs">Design Current Page</text>
<text x="859.2" y="161.6" font-size="7.1" fill="#b7a3dd" font-weight="bold" font-style="italic" textLength="19" lengthAdjust="spacingAndGlyphs">Home</text>
<circle cx="835.2" cy="197.75" r="13.8" fill="none" stroke="#2196f3" stroke-width="1.9"/>
<text x="859.2" y="196.3" font-size="9.3" fill="#2196f3" font-weight="bold" textLength="33" lengthAdjust="spacingAndGlyphs">Preview</text>
<text x="859.2" y="206.6" font-size="7.1" fill="#90c9f8" textLength="98" lengthAdjust="spacingAndGlyphs">See preview of your application</text>
<circle cx="835.2" cy="242.80" r="13.8" fill="none" stroke="#2196f3" stroke-width="1.9"/>
<text x="859.2" y="241.5" font-size="9.3" fill="#2196f3" font-weight="bold" textLength="30.7" lengthAdjust="spacingAndGlyphs">Publish</text>
<text x="859.2" y="251.5" font-size="7.1" fill="#90c9f8" textLength="131.8" lengthAdjust="spacingAndGlyphs">Make your application available for others</text>
<circle cx="835.2" cy="289.70" r="13.8" fill="none" stroke="#8a66c3" stroke-width="1.9"/>
<text x="859.2" y="282.5" font-size="9.3" fill="#8a66c3" font-weight="bold" textLength="44.8" lengthAdjust="spacingAndGlyphs">API Toolkit</text>
<text x="859.2" y="292.7" font-size="7.1" fill="#c4b8dc" textLength="118.6" lengthAdjust="spacingAndGlyphs">Check a tool that helps to prepare API</text>
<text x="859.2" y="303.5" font-size="7.1" fill="#c4b8dc" textLength="27.2" lengthAdjust="spacingAndGlyphs">requests</text>
<circle cx="835.2" cy="336.05" r="13.8" fill="none" stroke="#fbbe3e" stroke-width="1.9"/>
<text x="859.2" y="334.6" font-size="9.3" fill="#fbbe3e" font-weight="bold" textLength="18.6" lengthAdjust="spacingAndGlyphs">Help</text>
<text x="859.2" y="344.4" font-size="7.1" fill="#fddc97" textLength="49.7" lengthAdjust="spacingAndGlyphs">Visit help pages</text>
<circle cx="835.2" cy="381.35" r="13.8" fill="none" stroke="#ec4194" stroke-width="1.9"/>
<text x="859.2" y="379.3" font-size="9.3" fill="#ec4194" font-weight="bold" textLength="53.9" lengthAdjust="spacingAndGlyphs">Exit Designer</text>
<text x="859.2" y="389.4" font-size="7.1" fill="#f59cc6" textLength="48.3" lengthAdjust="spacingAndGlyphs">Go back to Hub</text>
<g fill="none" stroke-width="0.9" stroke-linejoin="round">
<!-- upload -->
<g stroke="#1fc8b6">
<path d="M833.3 108.2 V104.6 H830.4 L835.3 99.9 L840.2 104.6 H837.3 V108.2 Z"/>
<path d="M831.5 109.2 H828.4 V114.4 H842.6 V109.2 H839.3"/>
<path d="M838.6 112.6 H839.4 M840.2 112.6 H841" stroke-width="0.8"/>
</g>
<!-- window (design current page) -->
<g stroke="#8a66c3">
<rect x="829.4" y="146.6" width="12.5" height="11.9"/>
<line x1="829.4" y1="148.9" x2="841.9" y2="148.9" stroke-width="1.2"/>
</g>
<!-- glasses -->
<g stroke="#2196f3">
<circle cx="831.2" cy="197.9" r="2.9"/><circle cx="839.6" cy="197.9" r="2.9"/>
<path d="M834.1 197.6 Q835.4 196.9 836.7 197.6"/>
</g>
<!-- cloud upload -->
<g stroke="#2196f3">
<path d="M833 247.3 H830.6 C828.8 247.3 827.7 246 827.7 244.5 C827.7 243 828.8 241.8 830.4 241.8 C830.7 239.4 832.6 237.7 835 237.7 C837.5 237.7 839.3 239.5 839.6 241.6 C841.6 241.6 843 242.9 843 244.5 C843 246.1 841.8 247.3 840.2 247.3 H837.5"/>
<path d="M835.3 249.3 V241.8 M833.1 244 L835.3 241.8 L837.5 244"/>
</g>
<!-- briefcase -->
<g stroke="#8a66c3">
<rect x="827.7" y="285.5" width="15.4" height="9.8" rx="0.6"/>
<path d="M832 285.5 V283.2 H838.8 V285.5"/>
<path d="M827.7 289.8 H833.6 M837.2 289.8 H843.1"/>
<rect x="833.6" y="288.8" width="3.6" height="2.3"/>
</g>
<!-- lifebuoy -->
<g stroke="#fbbe3e">
<circle cx="835.4" cy="336.2" r="7.2"/>
<circle cx="835.4" cy="336.2" r="3.0"/>
<path d="M833.70 329.20 V333.73 M833.70 338.67 V343.20 M828.40 334.50 H832.93 M837.87 334.50 H842.40 M837.10 329.20 V333.73 M837.10 338.67 V343.20 M828.40 337.90 H832.93 M837.87 337.90 H842.40"/>
</g>
<!-- exit / sign-in -->
<g stroke="#ec4194">
<path d="M832.2 378.4 V376.2 H840.6 V386.2 H832.2 V384"/>
<path d="M828 381.2 H836 M833.6 378.8 L836 381.2 L833.6 383.6"/>
</g>
</g>
</svg>
<svg class="a" style="left:0;top:0" width="1024" height="501" viewBox="0 0 1024 501">
<rect x="809.4" y="87.6" width="204" height="40.1" fill="none" stroke="#ff0000" stroke-width="2.8"/>
<line x1="771.5" y1="106.3" x2="797" y2="106.3" stroke="#f00" stroke-width="2.6" stroke-linecap="round"/>
<path d="M795.2 102.5 L808 106.3 L795.2 110 Z" fill="#f00"/>
</svg>
<svg class="a" style="left:0;top:0" width="1024" height="501" viewBox="0 0 1024 501">
<circle cx="1004.2" cy="475.8" r="16.1" fill="#8667bc"/>
<path d="M1004.2 467.2 C1008.6 467.2 1012 470.5 1012 474.8 C1012 479 1008.6 482.4 1004.2 482.4 C1003.4 482.4 1002.7 482.3 1002 482.1 L1000.6 484.2 L1000.6 481.3 C998.1 480 996.4 477.6 996.4 474.8 C996.4 470.5 999.8 467.2 1004.2 467.2 Z" fill="#fff"/>
<path d="M1003 478.3 Q1005.1 480 1007.3 478.3" stroke="#8667bc" stroke-width="1.2" fill="none" stroke-linecap="round"/>
<circle cx="1014.7" cy="464.8" r="5.4" fill="#c8141e"/>
<text x="1014.7" y="467.2" font-size="6.8" font-weight="bold" fill="#fff" text-anchor="middle" font-family="Liberation Sans">1</text>
</svg>
</body></html>
